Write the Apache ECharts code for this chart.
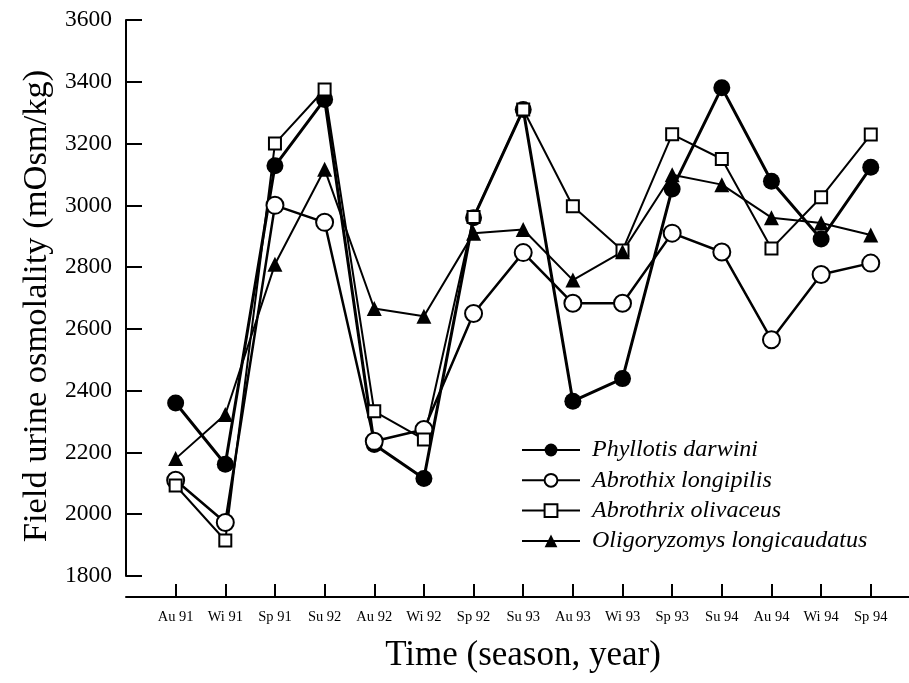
<!DOCTYPE html>
<html>
<head>
<meta charset="utf-8">
<script src="https://cdn.jsdelivr.net/npm/echarts@6/dist/echarts.min.js"></script>
<style>
  html, body { margin: 0; padding: 0; background: #fff; }
  #chart { width: 909px; height: 683px; }
</style>
</head>
<body>
<div id="chart"></div>
<script>
  // seasons on the x axis
  var seasons = ['Au 91', 'Wi 91', 'Sp 91', 'Su 92', 'Au 92', 'Wi 92', 'Sp 92', 'Su 93',
    'Au 93', 'Wi 93', 'Sp 93', 'Su 94', 'Au 94', 'Wi 94', 'Sp 94'];

  // field urine osmolality (mOsm/kg)
  var phyllotis = [2360, 2162, 3128, 3343, 2226, 2116, 2960, 3310, 2366, 2439, 3053, 3381, 3078, 2891, 3123];
  var longipilis = [2110, 1973, 3000, 2945, 2236, 2274, 2650, 2847, 2683, 2683, 2910, 2849, 2565, 2776, 2813];
  var olivaceus = [2093, 1915, 3200, 3375, 2333, 2242, 2962, 3310, 2997, 2854, 3230, 3150, 2860, 3026, 3229];
  var oligoryzomys = [2180, 2323, 2809, 3117, 2666, 2641, 2910, 2922, 2758, 2850, 3099, 3067, 2960, 2943, 2904];

  var yTicks = [1800, 2000, 2200, 2400, 2600, 2800, 3000, 3200, 3400, 3600];

  var font = 'Liberation Serif, Times New Roman, serif';
  var seasonIdx = seasons.map(function (s, i) { return i; });

  function pairs(arr) {
    return arr.map(function (v, i) { return [i, v]; });
  }

  var chart = echarts.init(document.getElementById('chart'));
  chart.setOption({
    animation: false,
    backgroundColor: '#fff',
    grid: { left: 126, right: 0, top: 20, bottom: 107 },
    legend: {
      orient: 'vertical',
      left: 516,
      top: 433,
      itemWidth: 58,
      itemHeight: 16,
      itemGap: 6.3,
      textStyle: {
        fontFamily: font,
        fontStyle: 'italic',
        fontSize: 24,
        lineHeight: 24,
        color: '#000',
        padding: [0, 0, 0, 7]
      },
      data: ['Phyllotis darwini', 'Abrothix longipilis', 'Abrothrix olivaceus', 'Oligoryzomys longicaudatus']
    },
    xAxis: {
      type: 'value',
      min: -1,
      max: 14.77,
      offset: 21,
      splitLine: { show: false },
      axisLine: { onZero: false, lineStyle: { color: '#000', width: 2 } },
      axisTick: {
        inside: true, length: 13, customValues: seasonIdx,
        lineStyle: { color: '#000', width: 2 }
      },
      axisLabel: {
        customValues: seasonIdx,
        margin: 13,
        fontFamily: font,
        fontSize: 14.5,
        color: '#000',
        formatter: function (v) { return seasons[v]; }
      }
    },
    yAxis: {
      type: 'value',
      min: 1800,
      max: 3600,
      interval: 200,
      splitLine: { show: false },
      axisLine: { show: true, onZero: false, lineStyle: { color: '#000', width: 2 } },
      axisTick: { show: true, inside: true, length: 16, lineStyle: { color: '#000', width: 2 } },
      axisLabel: {
        margin: 14,
        fontFamily: font,
        fontSize: 23.5,
        color: '#000',
        customValues: yTicks,
        formatter: function (v) { return String(v); }
      }
    },
    graphic: [
      {
        type: 'text',
        x: 37, y: 306,
        rotation: Math.PI / 2,
        style: {
          text: 'Field urine osmolality (mOsm/kg)',
          font: '34.5px ' + font,
          fill: '#000',
          align: 'center',
          verticalAlign: 'middle'
        }
      },
      {
        type: 'text',
        x: 523, y: 656,
        style: {
          text: 'Time (season, year)',
          font: '35px ' + font,
          fill: '#000',
          align: 'center',
          verticalAlign: 'middle'
        }
      }
    ],
    series: [
      {
        name: 'Phyllotis darwini',
        type: 'line',
        data: pairs(phyllotis),
        symbol: 'circle',
        symbolSize: 17,
        lineStyle: { color: '#000', width: 3 },
        itemStyle: { color: '#000', borderColor: '#000', borderWidth: 0 }
      },
      {
        name: 'Abrothix longipilis',
        type: 'line',
        data: pairs(longipilis),
        symbol: 'circle',
        symbolSize: 17,
        lineStyle: { color: '#000', width: 2.5 },
        itemStyle: { color: '#fff', borderColor: '#000', borderWidth: 2 }
      },
      {
        name: 'Abrothrix olivaceus',
        type: 'line',
        data: pairs(olivaceus),
        symbol: 'rect',
        symbolSize: 12,
        lineStyle: { color: '#000', width: 2 },
        itemStyle: { color: '#fff', borderColor: '#000', borderWidth: 2 }
      },
      {
        name: 'Oligoryzomys longicaudatus',
        type: 'line',
        data: pairs(oligoryzomys),
        symbol: 'triangle',
        symbolSize: 15,
        lineStyle: { color: '#000', width: 2 },
        itemStyle: { color: '#000', borderColor: '#000', borderWidth: 0 }
      }
    ]
  });
</script>
</body>
</html>
